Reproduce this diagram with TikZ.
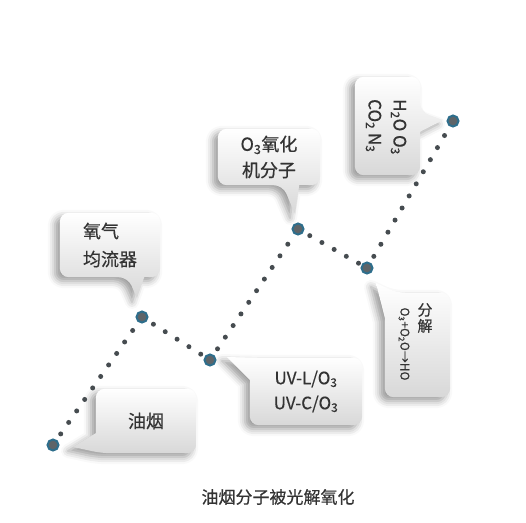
\documentclass[tikz,border=0pt]{standalone}
\usepackage{fontspec}
\setmainfont{Noto Sans CJK SC}[FakeBold=0.5]
\usepackage{tikz}
\usetikzlibrary{calc,backgrounds,shadows.blur}

\definecolor{inkgray}{HTML}{333333}
\definecolor{dotgray}{HTML}{464C50}
\definecolor{hubgray}{HTML}{5E6468}
\definecolor{dotring}{HTML}{2E6E8C}
\definecolor{boxlow}{HTML}{D8D8D8}

\begin{document}
\begin{tikzpicture}[x=1pt, y=-1pt, text=inkgray, font=\fontsize{18}{26}\selectfont]
  \tikzstyle{hub}=[circle, fill=hubgray, draw=dotring, line width=2pt, inner sep=0pt, minimum size=11pt]
  \tikzstyle{trail}=[draw=dotgray, line width=5pt, line cap=round, dash pattern=on 0pt off 14pt, dash phase=7pt]
  \tikzstyle{holder}=[inner sep=0pt, align=center]
  \tikzstyle{bubble}=[top color=white, bottom color=boxlow, blur shadow={shadow xshift=-5pt, shadow yshift=-4pt, shadow blur radius=7pt, shadow opacity=40}]
  \useasboundingbox (0,0) rectangle (526,522);

  \node[hub] (A) at (53,445)  {};
  \node[hub] (B) at (142,317) {};
  \node[hub] (C) at (210,360) {};
  \node[hub] (D) at (298,229) {};
  \node[hub] (E) at (367,268) {};
  \node[hub] (F) at (453,121) {};
  \path (A) edge[trail] (B)
        (B) edge[trail] (C)
        (C) edge[trail] (D)
        (D) edge[trail] (E)
        (E) edge[trail] (F);

  \node[holder, minimum width=100pt, minimum height=64pt] (oil)   at (146,421)   {油烟};
  \node[holder, minimum width=100pt, minimum height=64pt, align=left,
        font=\fontsize{18}{28}\selectfont] (flow) at (110,245) {氧气\\均流器};
  \node[holder, minimum width=102pt, minimum height=56pt] (ozone) at (269,157)   {O\textsubscript{3}氧化\\机分子};
  \node[holder, minimum width=112pt, minimum height=67pt,
        font=\fontsize{17}{25}\selectfont] (uv) at (306,391.5) {UV-L/O\textsubscript{3}\\UV-C/O\textsubscript{3}};
  \node[holder, minimum width=65pt,  minimum height=104pt] (split) at (417.5,345) {};
  \node[holder, minimum width=65pt,  minimum height=98pt]  (prod)  at (387.5,126) {};

  \node[holder, font=\fontsize{15}{16}\selectfont] (splitcn) at (425,318) {分\\解};
  \node[holder, rotate=-90, font=\fontsize{12}{14}\selectfont] (splitfx) at (404,344) {O\textsubscript{3}+O\textsubscript{2}O→HO};
  \node[holder, rotate=-90, align=left, font=\fontsize{17}{25}\selectfont] (prodtx) at (386,127)
       {H\textsubscript{2}O O\textsubscript{3}\\CO\textsubscript{2} N\textsubscript{3}};

  \coordinate (ta) at (73,447);
  \coordinate (tb) at (137,298);
  \coordinate (tc) at (295,214);
  \coordinate (td) at (227,357);
  \coordinate (te) at (376,283);
  \coordinate (tf) at (443,120);

  \begin{scope}[on background layer]
    \path[bubble] ($(oil.south west)+(0,-20)$) [rounded corners=9pt] -- (oil.north west) -- (oil.north east)
          -- (oil.south east) -- ($(oil.south west)+(6,0)$) [sharp corners] -- (ta) -- cycle;
    \path[bubble] ($(flow.south east)+(-16,0)$) [rounded corners=9pt] -- (flow.south east) -- (flow.north east)
          -- (flow.north west) -- (flow.south west) -- ($(flow.south west)+(68,0)$) [sharp corners] -- (tb) -- cycle;
    \path[bubble] ($(ozone.south east)+(-21,0)$) [rounded corners=9pt] -- (ozone.south east) -- (ozone.north east)
          -- (ozone.north west) -- (ozone.south west) -- ($(ozone.south west)+(65,0)$) [sharp corners] -- (tc) -- cycle;
    \path[bubble] ($(uv.north west)+(0,22)$) [rounded corners=9pt] -- (uv.south west) -- (uv.south east)
          -- (uv.north east) -- ($(uv.north west)+(6,0)$) [sharp corners] -- (td) -- cycle;
    \path[bubble] ($(split.north west)+(0,25)$) [rounded corners=9pt] -- (split.south west) -- (split.south east)
          -- (split.north east) -- ($(split.north west)+(12,0)$) [sharp corners] -- (te) -- cycle;
    \path[bubble] ($(prod.north east)+(0,55)$) [rounded corners=9pt] -- (prod.south east) -- (prod.south west)
          -- (prod.north west) -- (prod.north east) -- ($(prod.north east)+(0,35)$) [sharp corners] -- (tf) -- cycle;
  \end{scope}

  \node[font=\fontsize{17}{20}\selectfont] (cap) at (278,497) {油烟分子被光解氧化};
\end{tikzpicture}
\end{document}
